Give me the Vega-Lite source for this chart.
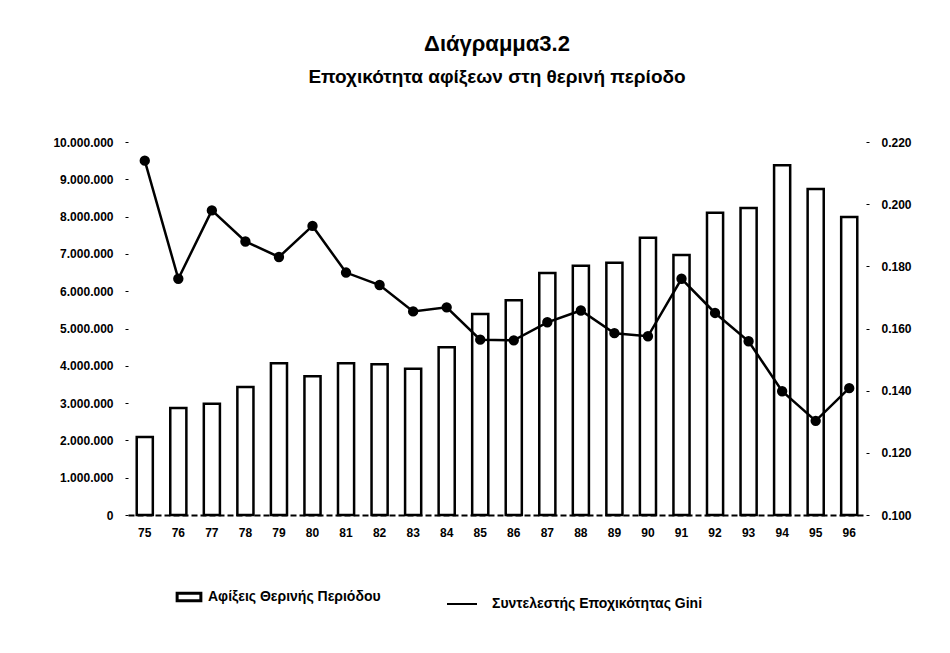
{
  "$schema": "https://vega.github.io/schema/vega-lite/v6.json",
  "width": 738,
  "height": 373,
  "autosize": "none",
  "padding": {"left": 128, "top": 142, "right": 84, "bottom": 138},
  "background": "white",
  "config": {
    "font": "Liberation Sans",
    "view": {"stroke": null},
    "axis": {"labelFont": "Liberation Sans", "labelFontWeight": "bold", "labelColor": "black", "labelFontSize": 12}
  },
  "title": {
    "text": "Διάγραμμα3.2",
    "subtitle": "Εποχικότητα αφίξεων στη θερινή περίοδο",
    "fontSize": 22,
    "fontWeight": "bold",
    "subtitleFontSize": 19,
    "subtitleFontWeight": "bold",
    "subtitleColor": "black",
    "subtitlePadding": 12,
    "color": "black",
    "anchor": "middle",
    "offset": 48
  },
  "data": {
    "values": [
      {"year": "75", "arrivals": 2090000, "gini": 0.214},
      {"year": "76", "arrivals": 2870000, "gini": 0.176},
      {"year": "77", "arrivals": 2980000, "gini": 0.198},
      {"year": "78", "arrivals": 3430000, "gini": 0.188},
      {"year": "79", "arrivals": 4070000, "gini": 0.183},
      {"year": "80", "arrivals": 3720000, "gini": 0.193},
      {"year": "81", "arrivals": 4070000, "gini": 0.178},
      {"year": "82", "arrivals": 4040000, "gini": 0.174},
      {"year": "83", "arrivals": 3920000, "gini": 0.1655},
      {"year": "84", "arrivals": 4500000, "gini": 0.1668},
      {"year": "85", "arrivals": 5390000, "gini": 0.1564},
      {"year": "86", "arrivals": 5760000, "gini": 0.1562},
      {"year": "87", "arrivals": 6490000, "gini": 0.162},
      {"year": "88", "arrivals": 6680000, "gini": 0.1658},
      {"year": "89", "arrivals": 6760000, "gini": 0.1585},
      {"year": "90", "arrivals": 7430000, "gini": 0.1575},
      {"year": "91", "arrivals": 6970000, "gini": 0.176},
      {"year": "92", "arrivals": 8100000, "gini": 0.165},
      {"year": "93", "arrivals": 8230000, "gini": 0.1559},
      {"year": "94", "arrivals": 9380000, "gini": 0.1398},
      {"year": "95", "arrivals": 8740000, "gini": 0.1303},
      {"year": "96", "arrivals": 7990000, "gini": 0.1408}
    ]
  },
  "encoding": {
    "x": {
      "field": "year",
      "type": "ordinal",
      "title": null,
      "scale": {"paddingInner": 0.52, "paddingOuter": 0.26},
      "axis": {
        "labelAngle": 0,
        "ticks": false,
        "labelPadding": 12,
        "labelFontSize": 12,
        "domainColor": "black",
        "domainWidth": 2,
        "domainDash": [6, 3]
      }
    }
  },
  "layer": [
    {
      "mark": {"type": "bar", "stroke": "black", "strokeWidth": 2.5},
      "encoding": {
        "y": {
          "field": "arrivals",
          "type": "quantitative",
          "title": null,
          "scale": {"domain": [0, 10000000], "nice": false},
          "axis": {
            "orient": "left",
            "values": [0, 1000000, 2000000, 3000000, 4000000, 5000000, 6000000, 7000000, 8000000, 9000000, 10000000],
            "labelOverlap": false,
            "grid": false,
            "domain": false,
            "tickSize": 3,
            "tickColor": "black",
            "labelPadding": 12,
            "labelExpr": "replace(format(datum.value, ',d'), /,/g, '.')"
          }
        },
        "fill": {
          "datum": "Αφίξεις Θερινής Περιόδου",
          "scale": {"range": ["white"]},
          "legend": {
            "title": null,
            "orient": "none",
            "legendX": 52,
            "legendY": 446,
            "symbolType": "M-1.6,-0.5H1.6V0.5H-1.6Z",
            "symbolSize": 220,
            "symbolStrokeColor": "black",
            "symbolStrokeWidth": 3,
            "labelFontSize": 14,
            "labelFontWeight": "bold",
            "labelColor": "black",
            "labelOffset": 10,
            "labelLimit": 400
          }
        }
      }
    },
    {
      "mark": {"type": "line", "color": "black", "strokeWidth": 2.5, "point": {"filled": true, "size": 70, "color": "black"}},
      "encoding": {
        "y": {
          "field": "gini",
          "type": "quantitative",
          "title": null,
          "scale": {"domain": [0.1, 0.22], "nice": false, "zero": false},
          "axis": {
            "orient": "right",
            "values": [0.1, 0.12, 0.14, 0.16, 0.18, 0.2, 0.22],
            "labelOverlap": false,
            "format": ".3f",
            "grid": false,
            "domain": false,
            "tickSize": 3,
            "tickColor": "black",
            "labelPadding": 12
          }
        },
        "stroke": {
          "datum": "Συντελεστής Εποχικότητας Gini",
          "scale": {"range": ["black"]},
          "legend": {
            "title": null,
            "orient": "none",
            "legendX": 318,
            "legendY": 446,
            "symbolType": "stroke",
            "symbolSize": 900,
            "symbolStrokeWidth": 2,
            "labelFontSize": 14,
            "labelFontWeight": "bold",
            "labelColor": "black",
            "labelOffset": 14,
            "labelLimit": 400
          }
        }
      }
    }
  ],
  "resolve": {"scale": {"y": "independent", "fill": "independent", "stroke": "independent"}}
}
